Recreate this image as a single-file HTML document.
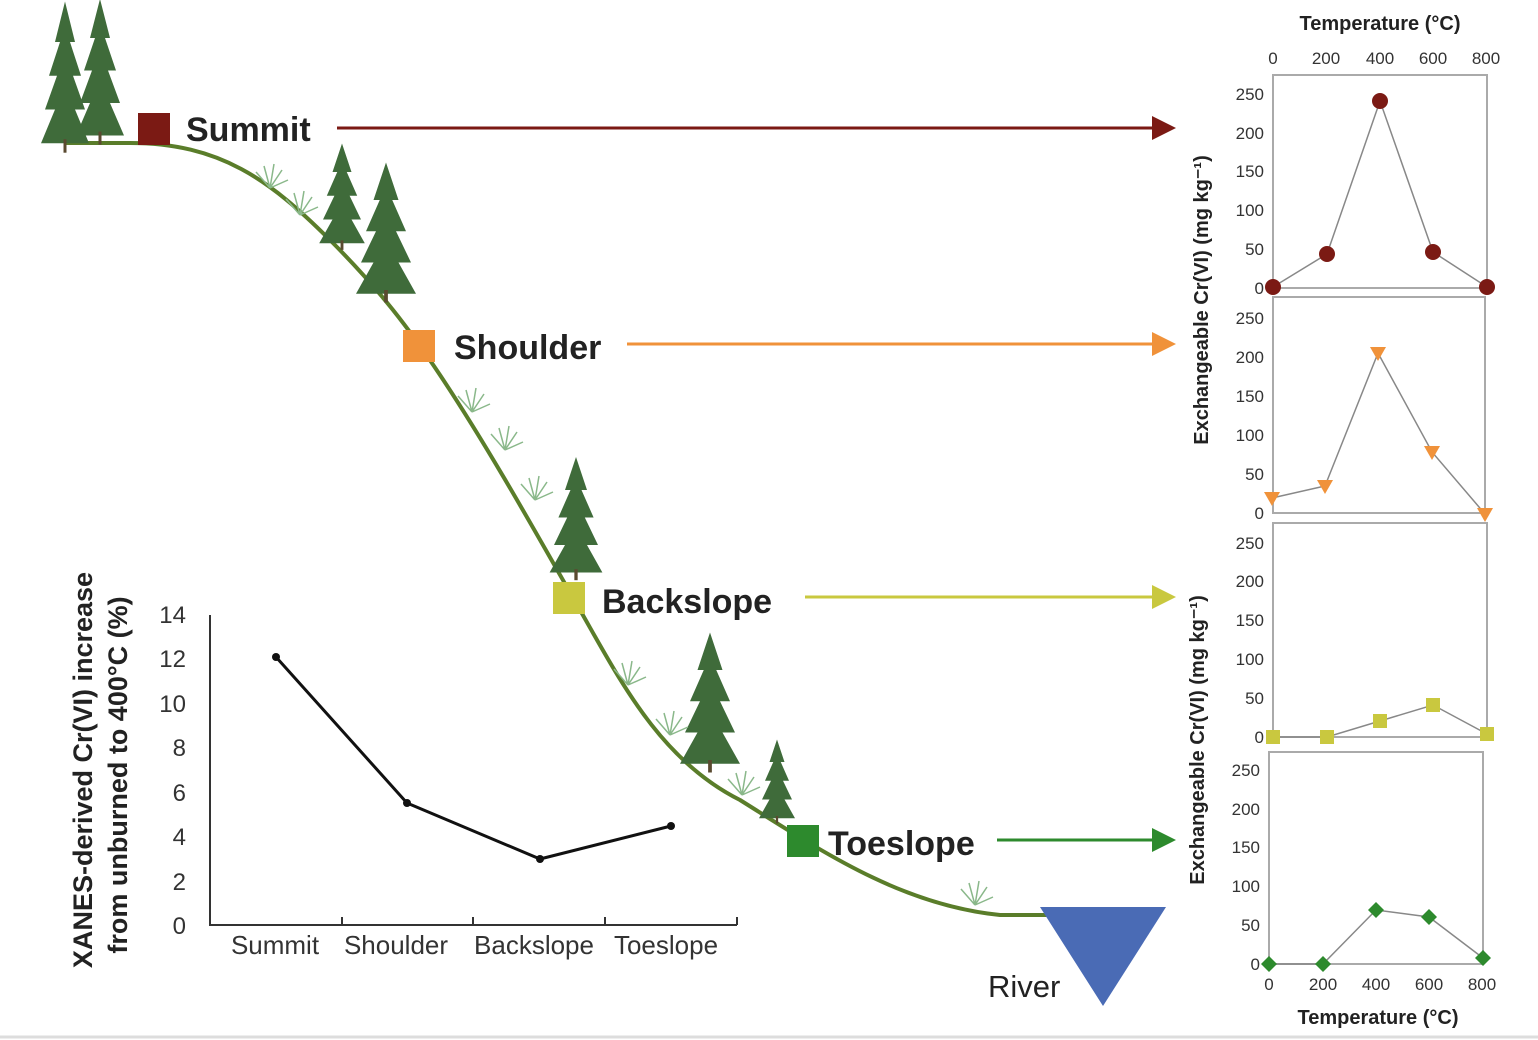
<!DOCTYPE html>
<html><head><meta charset="utf-8"><style>
html,body{margin:0;padding:0;background:#fff}
svg{display:block}
text{font-family:"Liberation Sans",sans-serif}
</style></head><body>
<svg width="1538" height="1040" viewBox="0 0 1538 1040" xmlns="http://www.w3.org/2000/svg">
<defs>
<g id="tree">
<path d="M0,-110 L-10,-80 L-5,-80 L-16,-55 L-8,-55 L-20,-30 L-10,-30 L-24,-5 L24,-5 L10,-30 L20,-30 L8,-55 L16,-55 L5,-80 L10,-80 Z" fill="#3f6b3a"/>
<rect x="-1.5" y="-8" width="3" height="10" fill="#5a4a30"/>
</g>
<g id="grass" stroke="#8ab88a" stroke-width="1.5" fill="none">
<path d="M0,0 L-14,-16 M0,0 L-6,-22 M0,0 L4,-24 M0,0 L12,-18 M0,0 L18,-8"/>
</g>
</defs>
<rect width="1538" height="1040" fill="#fff"/>
<line x1="0" y1="1037" x2="1538" y2="1037" stroke="#ddd" stroke-width="3"/>
<path d="M65,143 L130,143 C220,143 270,180 330,240 C380,290 410,330 440,375 C490,450 540,540 580,610 C620,680 660,760 740,800 C820,850 900,905 1000,915 L1060,915" fill="none" stroke="#5a7d2a" stroke-width="4"/>
<use href="#tree" transform="translate(65,150) scale(1.0,1.35)"/>
<use href="#tree" transform="translate(100,142) scale(1.0,1.3)"/>
<use href="#tree" transform="translate(342,248) scale(0.95)"/>
<use href="#tree" transform="translate(386,300) scale(1.25)"/>
<use href="#tree" transform="translate(576,578) scale(1.1)"/>
<use href="#tree" transform="translate(710,770) scale(1.25)"/>
<use href="#tree" transform="translate(777,822) scale(0.75)"/>
<use href="#grass" x="270" y="188"/>
<use href="#grass" x="300" y="215"/>
<use href="#grass" x="472" y="412"/>
<use href="#grass" x="505" y="450"/>
<use href="#grass" x="535" y="500"/>
<use href="#grass" x="628" y="685"/>
<use href="#grass" x="670" y="735"/>
<use href="#grass" x="742" y="795"/>
<use href="#grass" x="975" y="905"/>
<rect x="138" y="113" width="32" height="32" fill="#7b1a14"/>
<text x="186" y="141" font-size="34" font-weight="bold" fill="#222">Summit</text>
<rect x="403" y="330" width="32" height="32" fill="#f0923a"/>
<text x="454" y="359" font-size="34" font-weight="bold" fill="#222">Shoulder</text>
<rect x="553" y="582" width="32" height="32" fill="#c9c83f"/>
<text x="602" y="613" font-size="34" font-weight="bold" fill="#222">Backslope</text>
<rect x="787" y="825" width="32" height="32" fill="#2d8a2d"/>
<text x="828" y="855" font-size="34" font-weight="bold" fill="#222">Toeslope</text>
<line x1="337" y1="128" x2="1160" y2="128" stroke="#7b1a14" stroke-width="3"/>
<polygon points="1152,116 1176,128 1152,140" fill="#7b1a14"/>
<line x1="627" y1="344" x2="1160" y2="344" stroke="#f0923a" stroke-width="3"/>
<polygon points="1152,332 1176,344 1152,356" fill="#f0923a"/>
<line x1="805" y1="597" x2="1160" y2="597" stroke="#c9c83f" stroke-width="3"/>
<polygon points="1152,585 1176,597 1152,609" fill="#c9c83f"/>
<line x1="997" y1="840" x2="1160" y2="840" stroke="#2d8a2d" stroke-width="3"/>
<polygon points="1152,828 1176,840 1152,852" fill="#2d8a2d"/>
<polygon points="1040,907 1166,907 1103,1006" fill="#4a6bb5"/>
<text x="988" y="997" font-size="31" fill="#222">River</text>
<g stroke="#333" stroke-width="2" fill="none">
<path d="M210,615 L210,925 L737,925"/>
<path d="M342,925 V917 M473,925 V917 M605,925 V917 M737,925 V917"/>
</g>
<g font-size="24" fill="#333" text-anchor="end">
<text x="186" y="934">0</text><text x="186" y="890">2</text><text x="186" y="845">4</text><text x="186" y="801">6</text><text x="186" y="756">8</text><text x="186" y="712">10</text><text x="186" y="667">12</text><text x="186" y="623">14</text>
</g>
<g font-size="26" fill="#333" text-anchor="middle">
<text x="275" y="954">Summit</text><text x="396" y="954">Shoulder</text><text x="534" y="954">Backslope</text><text x="666" y="954">Toeslope</text>
</g>
<polyline points="276,657 407,803 540,859 671,826" fill="none" stroke="#111" stroke-width="3"/>
<g fill="#111"><circle cx="276" cy="657" r="4"/><circle cx="407" cy="803" r="4"/><circle cx="540" cy="859" r="4"/><circle cx="671" cy="826" r="4"/></g>
<text transform="translate(92,770) rotate(-90)" font-size="27" font-weight="bold" fill="#222" text-anchor="middle">XANES-derived Cr(VI) increase</text>
<text transform="translate(127,775) rotate(-90)" font-size="27" font-weight="bold" fill="#222" text-anchor="middle">from unburned to 400°C (%)</text>
<text x="1380" y="30" font-size="20" font-weight="bold" fill="#222" text-anchor="middle">Temperature (°C)</text>
<g font-size="17" fill="#333" text-anchor="middle">
<text x="1273" y="64">0</text><text x="1326" y="64">200</text><text x="1380" y="64">400</text><text x="1433" y="64">600</text><text x="1486" y="64">800</text>
</g>
<text x="1378" y="1024" font-size="20" font-weight="bold" fill="#222" text-anchor="middle">Temperature (°C)</text>
<g font-size="17" fill="#333" text-anchor="middle">
<text x="1269" y="990">0</text><text x="1323" y="990">200</text><text x="1376" y="990">400</text><text x="1429" y="990">600</text><text x="1482" y="990">800</text>
</g>
<text transform="translate(1208,300) rotate(-90)" font-size="20" font-weight="bold" fill="#222" text-anchor="middle">Exchangeable Cr(VI) (mg kg⁻¹)</text>
<text transform="translate(1204,740) rotate(-90)" font-size="20" font-weight="bold" fill="#222" text-anchor="middle">Exchangeable Cr(VI) (mg kg⁻¹)</text>
<g fill="none" stroke="#aaa" stroke-width="2">
<rect x="1273" y="75" width="214" height="213"/>
<rect x="1273" y="297" width="212" height="216"/>
<rect x="1273" y="523" width="214" height="214"/>
<rect x="1269" y="752" width="214" height="212"/>
</g>
<g font-size="17" fill="#333" text-anchor="end">
<text x="1264" y="294">0</text><text x="1264" y="255">50</text><text x="1264" y="216">100</text><text x="1264" y="177">150</text><text x="1264" y="139">200</text><text x="1264" y="100">250</text>
<text x="1264" y="519">0</text><text x="1264" y="480">50</text><text x="1264" y="441">100</text><text x="1264" y="402">150</text><text x="1264" y="363">200</text><text x="1264" y="324">250</text>
<text x="1264" y="743">0</text><text x="1264" y="704">50</text><text x="1264" y="665">100</text><text x="1264" y="626">150</text><text x="1264" y="587">200</text><text x="1264" y="549">250</text>
<text x="1260" y="970">0</text><text x="1260" y="931">50</text><text x="1260" y="892">100</text><text x="1260" y="853">150</text><text x="1260" y="815">200</text><text x="1260" y="776">250</text>
</g>
<g fill="none" stroke="#888" stroke-width="1.5">
<polyline points="1273,287 1327,254 1380,101 1433,252 1487,287"/>
<polyline points="1272,498 1325,486 1378,353 1432,452 1485,514"/>
<polyline points="1273,737 1327,737 1380,721 1433,705 1487,734"/>
<polyline points="1269,964 1323,964 1376,910 1429,917 1483,958"/>
</g>
<g fill="#7b1a14">
<circle cx="1273" cy="287" r="8"/><circle cx="1327" cy="254" r="8"/><circle cx="1380" cy="101" r="8"/><circle cx="1433" cy="252" r="8"/><circle cx="1487" cy="287" r="8"/>
</g>
<g fill="#f0923a">
<polygon points="1264,492 1280,492 1272,506"/><polygon points="1317,480 1333,480 1325,494"/><polygon points="1370,347 1386,347 1378,361"/><polygon points="1424,446 1440,446 1432,460"/><polygon points="1477,508 1493,508 1485,522"/>
</g>
<g fill="#c9c83f">
<rect x="1266" y="730" width="14" height="14"/><rect x="1320" y="730" width="14" height="14"/><rect x="1373" y="714" width="14" height="14"/><rect x="1426" y="698" width="14" height="14"/><rect x="1480" y="727" width="14" height="14"/>
</g>
<g fill="#2d8a2d">
<polygon points="1269,956 1277,964 1269,972 1261,964"/><polygon points="1323,956 1331,964 1323,972 1315,964"/><polygon points="1376,902 1384,910 1376,918 1368,910"/><polygon points="1429,909 1437,917 1429,925 1421,917"/><polygon points="1483,950 1491,958 1483,966 1475,958"/>
</g>
</svg>
</body></html>
